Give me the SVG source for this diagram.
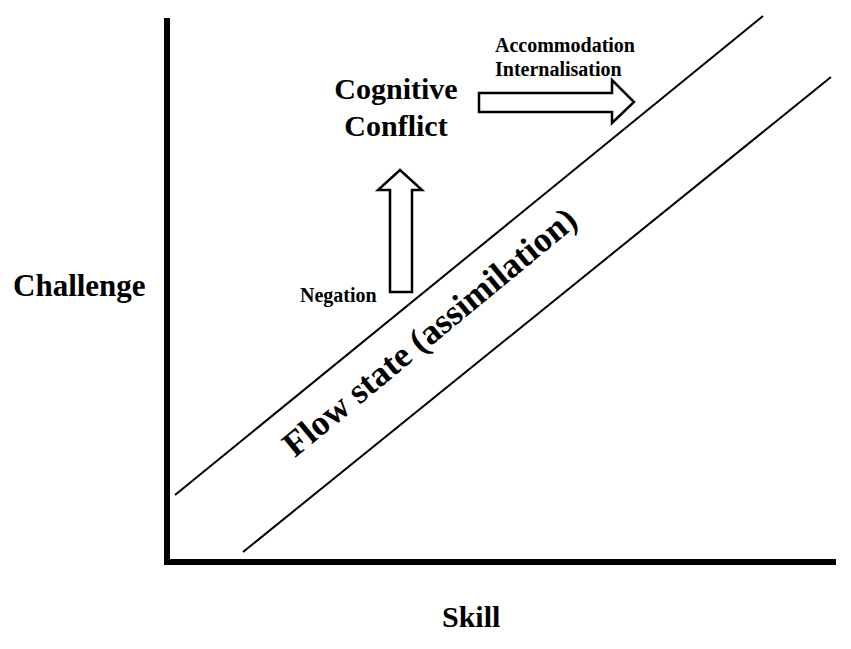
<svg xmlns="http://www.w3.org/2000/svg" width="851" height="649" viewBox="0 0 851 649">
<style>
.t{font-family:"Liberation Serif","Times New Roman",serif;font-weight:bold;fill:#000}
.big{font-size:30px}
.sm{font-size:20px}
.ln{stroke:#000;stroke-width:2;fill:none}
.ar{stroke:#000;stroke-width:2.5;fill:#fff;stroke-linejoin:miter}
</style>
<rect width="851" height="649" fill="#fff"/>
<g id="axes">
<polyline points="167,18 167,562 836,562" fill="none" stroke="#000" stroke-width="6"/>
</g>
<g id="flow-band">
<line class="ln" x1="175" y1="495" x2="763" y2="16"/>
<line class="ln" x1="243" y1="552" x2="831" y2="77"/>
<text class="t" font-size="35.5" text-anchor="middle" transform="translate(437,341) rotate(-39.5)">Flow state (assimilation)</text>
</g>
<g id="connectors">
<polygon id="arrow-negation" class="ar" points="390,292 412,292 412,190 422,190 400,170 378,190 390,190"/>
<polygon id="arrow-accommodation" class="ar" points="479,93 612,93 612,80 634,102 612,123 612,112 479,112"/>
</g>
<g id="cognitive-conflict">
<text class="t big" x="396" y="99" text-anchor="middle">Cognitive</text>
<text class="t big" x="396" y="136" text-anchor="middle">Conflict</text>
</g>
<g id="negation"><text class="t sm" x="300" y="302">Negation</text></g>
<g id="accommodation">
<text class="t sm" x="495" y="52">Accommodation</text>
<text class="t sm" x="495" y="76">Internalisation</text>
</g>
<g id="challenge"><text class="t" font-size="31" x="13" y="296">Challenge</text></g>
<g id="skill"><text class="t big" x="442" y="627">Skill</text></g>
</svg>
